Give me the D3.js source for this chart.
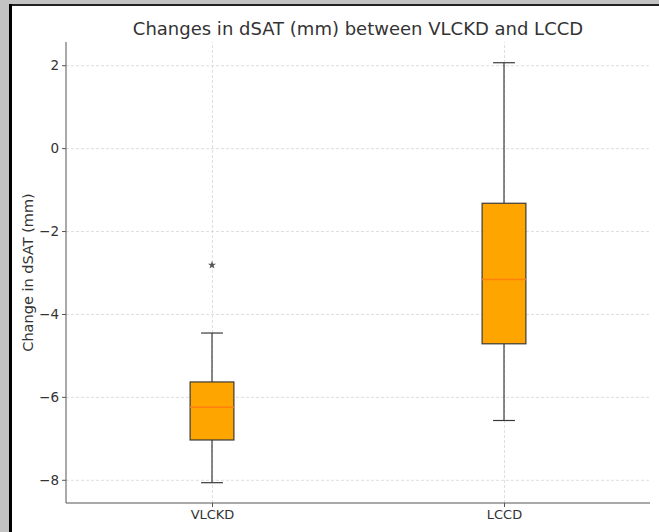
<!DOCTYPE html>
<html>
<head>
<meta charset="utf-8">
<script src="https://cdn.jsdelivr.net/npm/d3@7"></script>
<style>
  html, body { margin: 0; padding: 0; background: #fff; }
  svg { display: block; font-family: "DejaVu Sans", sans-serif; }
</style>
</head>
<body>
<div id="chart"></div>
<script>
// dados (mm)
const categories = ['VLCKD', 'LCCD'];
const whiskerLow = [-8.07, -6.57];
const q1 = [-7.04, -4.72];
const median = [-6.25, -3.17];
const q3 = [-5.64, -1.33];
const whiskerHigh = [-4.46, 2.06];
const outliers = [[-2.82], []];
const yTicks = [-8, -6, -4, -2, 0, 2];

const width = 659, height = 532;
const margin = { top: 42, right: 9, bottom: 29, left: 66 };
const innerW = width - margin.left - margin.right;
const innerH = height - margin.top - margin.bottom;

const svg = d3.select('#chart').append('svg')
  .attr('width', width)
  .attr('height', height);

// moldura da captura de tela
svg.append('rect').attr('x', 0).attr('y', 0).attr('width', width).attr('height', 4).attr('fill', '#c3c3c3');
svg.append('rect').attr('x', 0).attr('y', 0).attr('width', 9).attr('height', height).attr('fill', '#c3c3c3');
svg.append('rect').attr('x', 9).attr('y', 4).attr('width', width - 9).attr('height', 2).attr('fill', '#222');
svg.append('rect').attr('x', 9).attr('y', 4).attr('width', 3).attr('height', height - 4).attr('fill', '#000');

const g = svg.append('g').attr('transform', `translate(${margin.left},${margin.top})`);

const x = d3.scalePoint().domain(categories).range([0, innerW]).padding(0.5);
const y = d3.scaleLinear().domain([-8.56, 2.56]).range([innerH, 0]);

const step = x.step();
const boxW = step * 0.15;
const capW = boxW / 2;

const gridColor = '#d6d6d6';
const textColor = '#333';

// grade
g.append('g')
  .call(d3.axisLeft(y).tickValues(yTicks).tickSize(-innerW).tickFormat(''))
  .call(sel => {
    sel.select('.domain').remove();
    sel.selectAll('line').attr('stroke', gridColor).attr('stroke-width', 0.8).attr('stroke-dasharray', '3,2');
  });
g.append('g')
  .attr('transform', `translate(0,${innerH})`)
  .call(d3.axisBottom(x).tickSize(-innerH).tickFormat(''))
  .call(sel => {
    sel.select('.domain').remove();
    sel.selectAll('line').attr('stroke', gridColor).attr('stroke-width', 0.8).attr('stroke-dasharray', '3,2');
  });

// caixas
const data = categories.map((c, i) => ({
  c, lo: whiskerLow[i], q1: q1[i], med: median[i], q3: q3[i], hi: whiskerHigh[i], out: outliers[i]
}));

const box = g.selectAll('.box').data(data).join('g')
  .attr('class', 'box')
  .attr('transform', d => `translate(${x(d.c)},0)`);

const edge = '#3a3a3a';

box.append('line')
  .attr('y1', d => y(d.lo)).attr('y2', d => y(d.q1))
  .attr('stroke', edge).attr('stroke-width', 1.2);
box.append('line')
  .attr('y1', d => y(d.q3)).attr('y2', d => y(d.hi))
  .attr('stroke', edge).attr('stroke-width', 1.2);
box.append('line')
  .attr('x1', -capW / 2).attr('x2', capW / 2)
  .attr('y1', d => y(d.lo)).attr('y2', d => y(d.lo))
  .attr('stroke', edge).attr('stroke-width', 1.2);
box.append('line')
  .attr('x1', -capW / 2).attr('x2', capW / 2)
  .attr('y1', d => y(d.hi)).attr('y2', d => y(d.hi))
  .attr('stroke', edge).attr('stroke-width', 1.2);
box.append('rect')
  .attr('x', -boxW / 2).attr('width', boxW)
  .attr('y', d => y(d.q3)).attr('height', d => y(d.q1) - y(d.q3))
  .attr('fill', '#ffa500').attr('stroke', edge).attr('stroke-width', 1.2);
box.append('line')
  .attr('x1', -boxW / 2).attr('x2', boxW / 2)
  .attr('y1', d => y(d.med)).attr('y2', d => y(d.med))
  .attr('stroke', '#ff7f0e').attr('stroke-width', 1.5);
box.selectAll('.out').data(d => d.out).join('path')
  .attr('class', 'out')
  .attr('transform', v => `translate(0,${y(v)})`)
  .attr('d', d3.symbol(d3.symbolStar, 20))
  .attr('fill', '#555');

// eixos
g.append('g')
  .call(d3.axisLeft(y).tickValues(yTicks).tickSize(4).tickPadding(3).tickFormat(d => d < 0 ? '\u2212' + Math.abs(d) : d))
  .call(sel => {
    sel.select('.domain').attr('stroke', '#555').attr('d', `M0,0V${innerH}`);
    sel.selectAll('line').attr('stroke', '#555');
    sel.selectAll('text').attr('fill', textColor).style('font-size', '13.5px').style('font-family', '"DejaVu Sans", sans-serif');
  });
g.append('g')
  .attr('transform', `translate(0,${innerH})`)
  .call(d3.axisBottom(x).tickSize(4).tickPadding(3))
  .call(sel => {
    sel.select('.domain').attr('stroke', '#555').attr('d', `M0,0H${innerW}`);
    sel.selectAll('line').attr('stroke', '#555');
    sel.selectAll('text').attr('fill', textColor).style('font-size', '13px').style('font-family', '"DejaVu Sans", sans-serif');
  });

// títulos
svg.append('text')
  .attr('x', margin.left + innerW / 2)
  .attr('y', 35)
  .attr('text-anchor', 'middle')
  .attr('fill', textColor)
  .style('font-size', '18px')
  .text('Changes in dSAT (mm) between VLCKD and LCCD');

svg.append('text')
  .attr('transform', `translate(33,${margin.top + innerH / 2}) rotate(-90)`)
  .attr('text-anchor', 'middle')
  .attr('fill', textColor)
  .style('font-size', '14.5px')
  .text('Change in dSAT (mm)');
</script>
</body>
</html>
